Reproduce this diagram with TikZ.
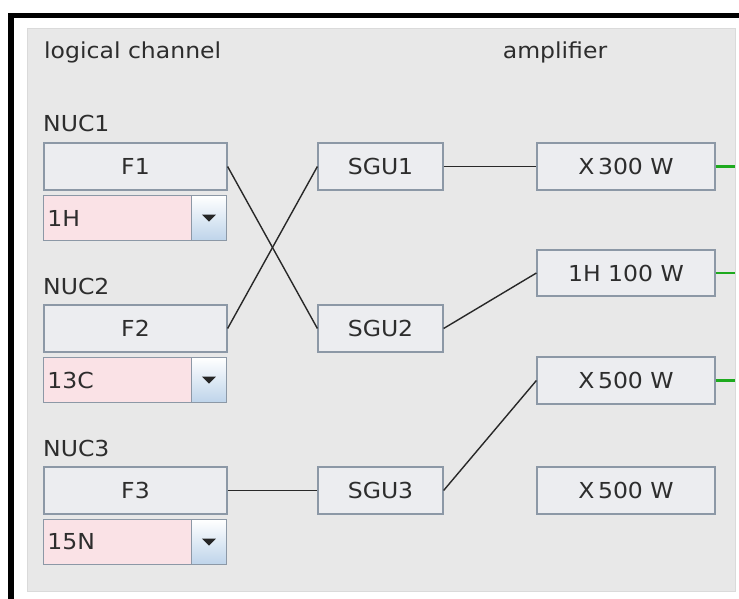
\documentclass[tikz,border=0pt]{standalone}
\usepackage{fontspec}
\setmainfont[FakeStretch=1.07]{DejaVu Sans}
\usetikzlibrary{positioning}
\definecolor{panelgray}{RGB}{232,232,232}
\definecolor{paneledge}{RGB}{218,218,218}
\definecolor{boxfill}{RGB}{236,237,240}
\definecolor{boxline}{RGB}{140,152,166}
\definecolor{combopink}{RGB}{250,226,230}
\definecolor{btnblue}{RGB}{190,212,234}
\definecolor{wiregray}{RGB}{40,40,40}
\definecolor{ampgreen}{RGB}{30,170,30}
\definecolor{guitext}{RGB}{45,45,45}
\tikzset{
  chbox/.style={draw=boxline, fill=boxfill, line width=1.2pt, minimum width=183pt,
      minimum height=47pt, inner sep=0pt, font=\fontsize{22}{26}\selectfont, text=guitext},
  sgubox/.style={chbox, minimum width=125pt},
  ampbox/.style={chbox, minimum width=178pt},
  combobox/.style={draw=boxline, fill=combopink, line width=1.2pt, minimum height=45pt,
      inner sep=4pt, outer sep=0pt, text width=140pt, align=left,
      font=\fontsize{22}{26}\selectfont, text=guitext},
  combobtn/.style={draw=boxline, line width=1.2pt, top color=white, bottom color=btnblue,
      minimum width=35pt, minimum height=45pt, outer sep=0pt},
  wire/.style={wiregray, line width=1.4pt},
  ampwire/.style={ampgreen, line width=2.6pt},
  guilbl/.style={font=\fontsize{22}{26}\selectfont, text=guitext, inner sep=0pt, anchor=base west},
}

\begin{document}
\begin{tikzpicture}[x=1pt, y=-1pt]
  \useasboundingbox[fill=white] (0,0) rectangle (739,599);
  % frame and panel
  \fill[black] (8,13) rectangle (739,18);
  \fill[black] (8,13) rectangle (14,599);
  \filldraw[fill=panelgray, draw=paneledge, line width=0.8pt] (27,28) rectangle (735,591);

  % headers
  \node[guilbl] (hlog) at (44,59) {logical channel};
  \node[guilbl, anchor=base] (hamp) at (555,59) {amplifier};

  % logical channels
  \node[guilbl] (nuc1) at (43,132) {NUC1};
  \node[chbox] (f1) at (135.5,166.5) {F1};
  \node[combobox, below right=5pt and 0pt of f1.south west] (c1) {1H};
  \node[combobtn, right=0pt of c1] (b1) {};

  \node[guilbl] (nuc2) at (43,294) {NUC2};
  \node[chbox] (f2) at (135.5,328.5) {F2};
  \node[combobox, below right=5pt and 0pt of f2.south west] (c2) {13C};
  \node[combobtn, right=0pt of c2] (b2) {};

  \node[guilbl] (nuc3) at (43,456) {NUC3};
  \node[chbox] (f3) at (135.5,490.5) {F3};
  \node[combobox, below right=5pt and 0pt of f3.south west] (c3) {15N};
  \node[combobtn, right=0pt of c3] (b3) {};

  \foreach \b in {b1,b2,b3}
    \fill[black!85] (\b.center) ++(-7,-3.5) -- ++(14,0) -- ++(-7,7) -- cycle;

  % signal generation units
  \node[sgubox] (sgu1) at (380.5,166.5) {SGU1};
  \node[sgubox] (sgu2) at (380.5,328.5) {SGU2};
  \node[sgubox] (sgu3) at (380.5,490.5) {SGU3};

  % amplifiers
  \node[ampbox] (amp1) at (626,166.5) {X\,300 W};
  \node[ampbox, minimum height=46pt] (amp2) at (626,273) {1H 100 W};
  \node[ampbox] (amp3) at (626,380.5) {X\,500 W};
  \node[ampbox] (amp4) at (626,490.5) {X\,500 W};

  \coordinate (out1) at (735,166.5);
  \coordinate (out2) at (735,273);
  \coordinate (out3) at (735,380.5);

  % routing
  \draw[wire] (f1.east) -- (sgu2.west);
  \draw[wire] (f2.east) -- (sgu1.west);
  \draw[wire] (f3.east) -- (sgu3.west);
  \draw[wire] (sgu1.east) -- (amp1.west);
  \draw[wire] (sgu2.east) -- (amp2.west);
  \draw[wire] (sgu3.east) -- (amp3.west);
  \draw[ampwire] (amp1.east) -- (out1);
  \draw[ampwire] (amp2.east) -- (out2);
  \draw[ampwire] (amp3.east) -- (out3);
\end{tikzpicture}
\end{document}
